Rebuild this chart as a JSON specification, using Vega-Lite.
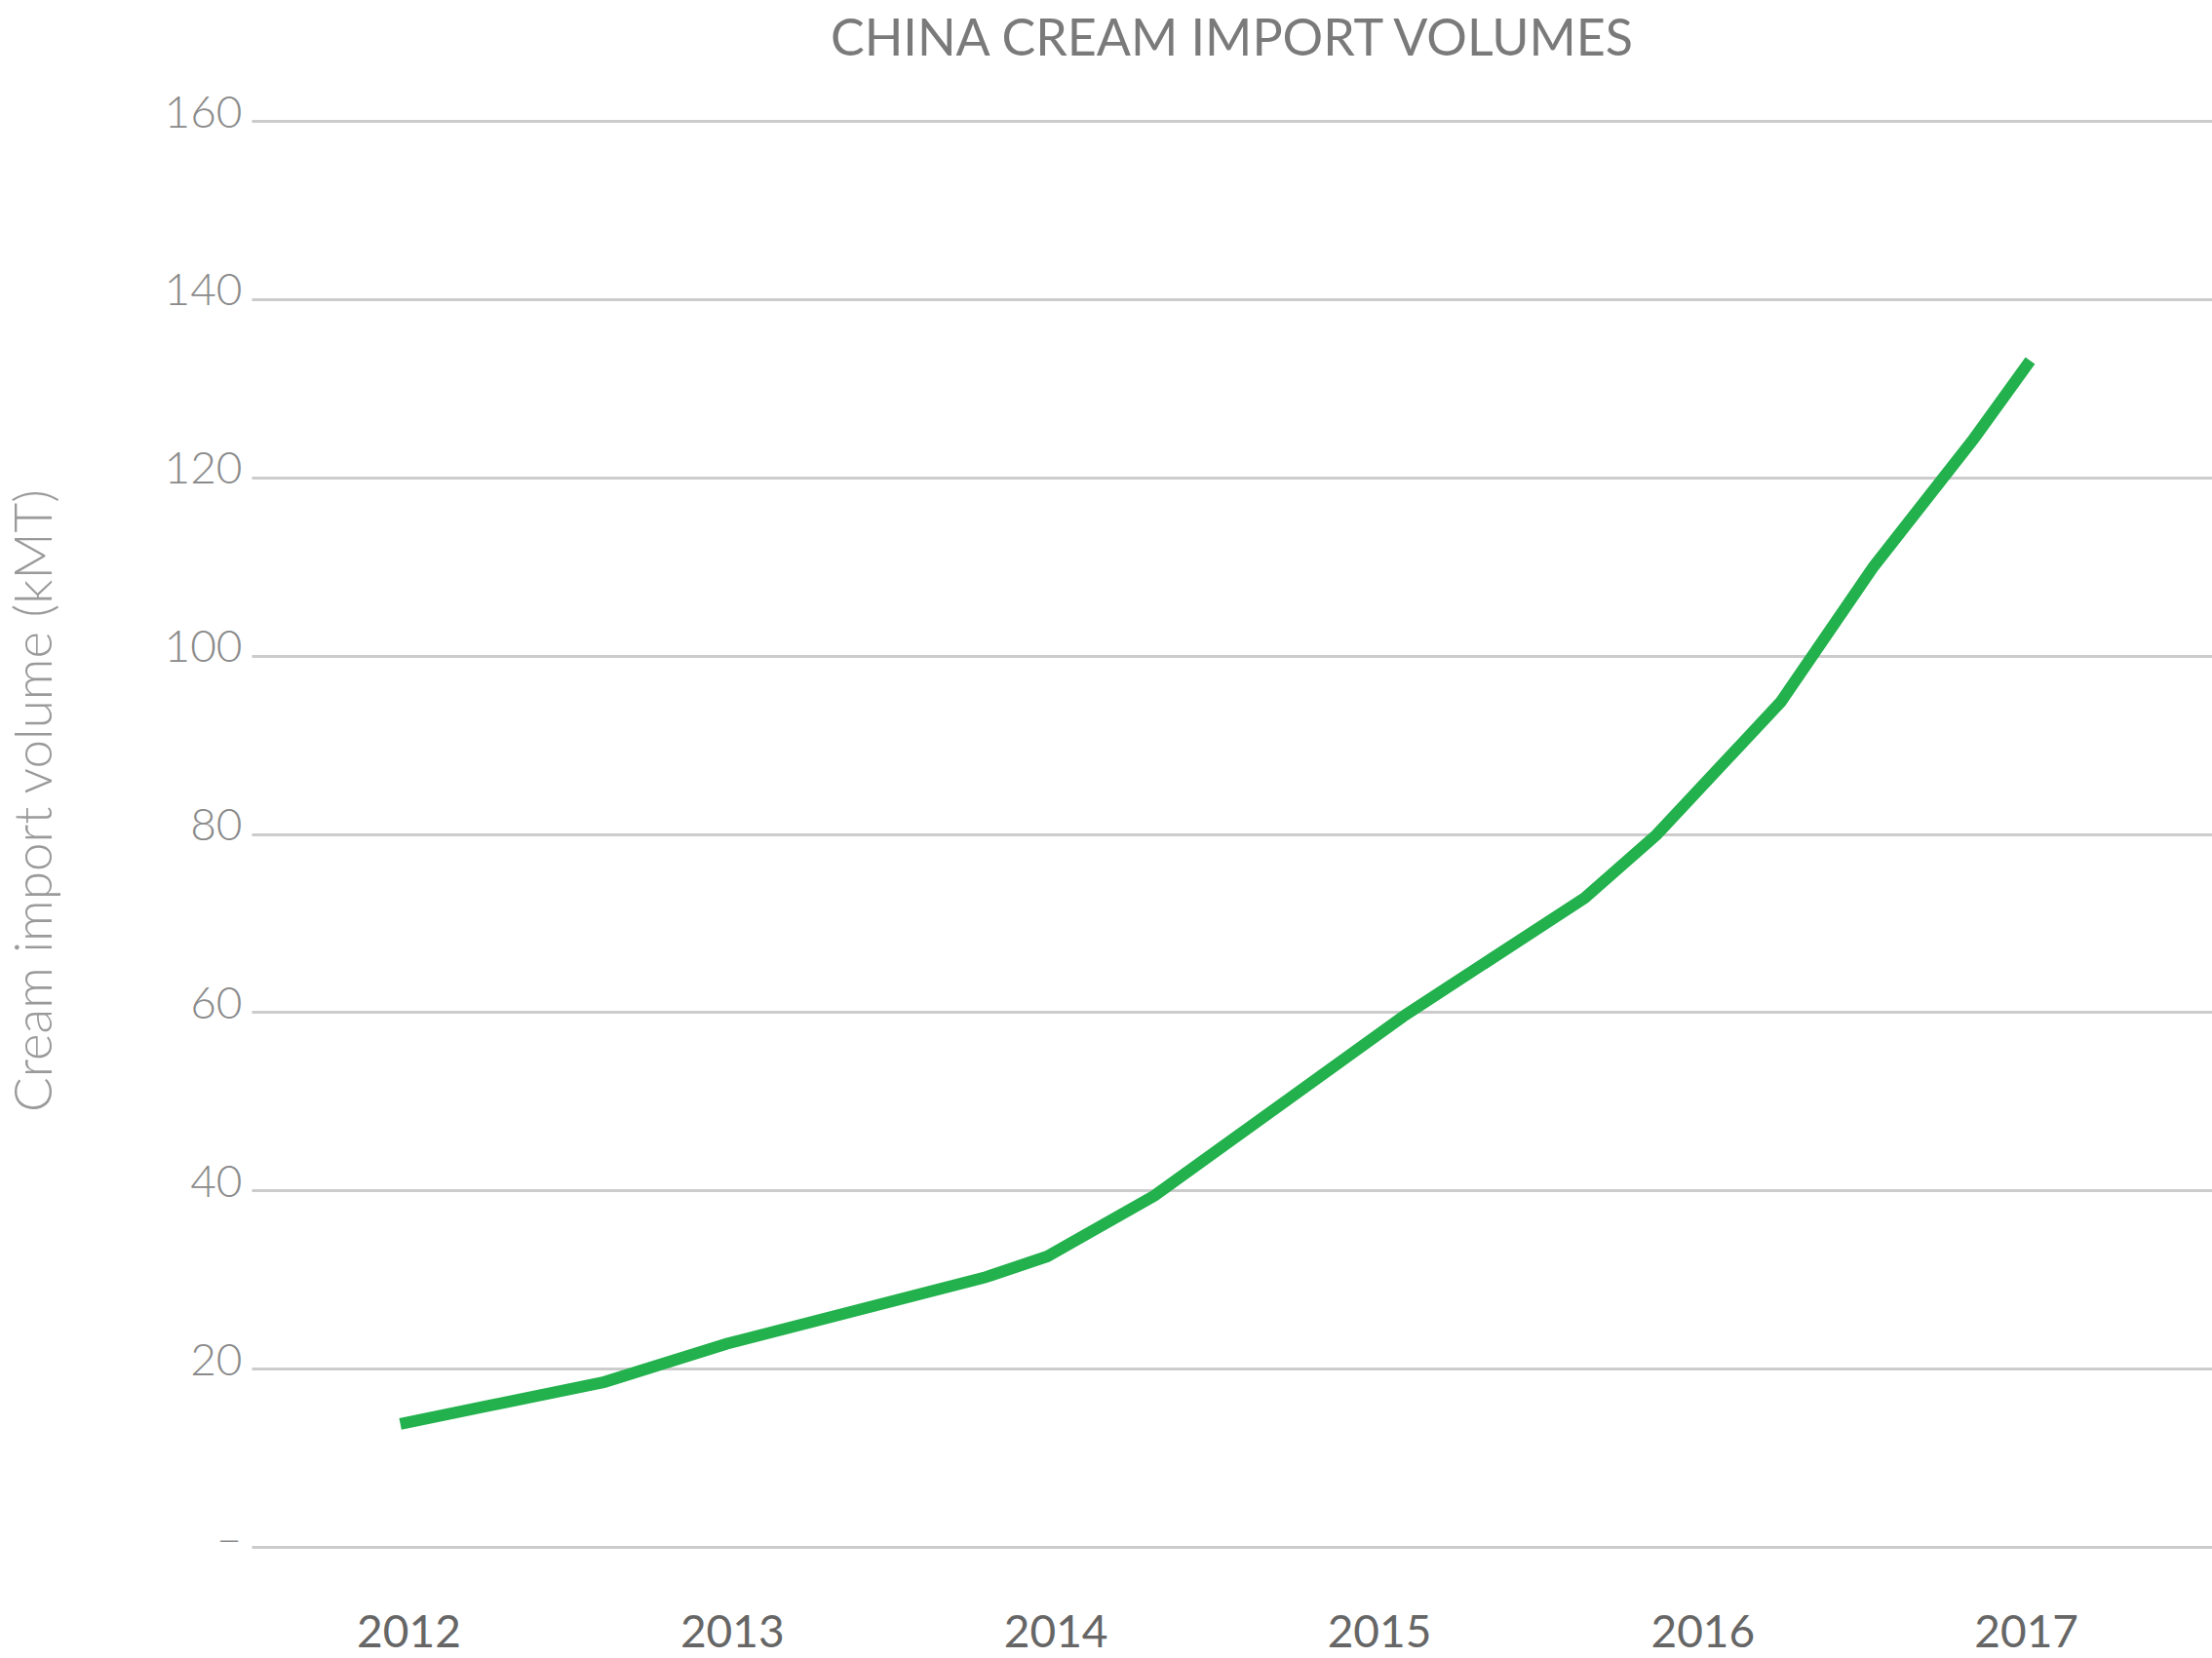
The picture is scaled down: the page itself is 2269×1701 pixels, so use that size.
{
  "$schema": "https://vega.github.io/schema/vega-lite/v6.json",
  "width": 2011,
  "height": 1463,
  "autosize": {"type": "none"},
  "padding": {"left": 258, "top": 124, "right": 0, "bottom": 114},
  "background": "white",
  "view": {"stroke": null},
  "title": {
    "text": "CHINA CREAM IMPORT VOLUMES",
    "anchor": "middle",
    "font": "Lato",
    "fontSize": 52,
    "fontWeight": 400,
    "color": "#7a7a7a",
    "baseline": "alphabetic",
    "offset": -16
  },
  "data": {
    "values": [
      {"year": 2011.975, "volume": 13.8},
      {"year": 2012.606, "volume": 18.5},
      {"year": 2012.985, "volume": 22.8},
      {"year": 2013.779, "volume": 30.2},
      {"year": 2013.975, "volume": 32.6},
      {"year": 2014.306, "volume": 39.4},
      {"year": 2015.082, "volume": 59.7},
      {"year": 2015.636, "volume": 72.8},
      {"year": 2015.858, "volume": 79.9},
      {"year": 2016.242, "volume": 94.8},
      {"year": 2016.529, "volume": 110.0},
      {"year": 2016.834, "volume": 124.1},
      {"year": 2017.013, "volume": 133.1}
    ]
  },
  "mark": {"type": "line", "color": "#22b14c", "strokeWidth": 12, "strokeJoin": "miter", "strokeCap": "butt"},
  "encoding": {
    "x": {
      "field": "year",
      "type": "quantitative",
      "scale": {"domain": [2011.515, 2017.575], "nice": false, "zero": false},
      "axis": {
        "title": null,
        "values": [2012, 2013, 2014, 2015, 2016, 2017],
        "format": "d",
        "grid": false,
        "domain": false,
        "ticks": false,
        "labelFont": "Lato",
        "labelFontSize": 46,
        "labelColor": "#666666",
        "labelPadding": 66,
        "labelBaseline": "top"
      }
    },
    "y": {
      "field": "volume",
      "type": "quantitative",
      "scale": {"domain": [0, 160], "nice": false},
      "axis": {
        "title": "Cream import volume (kMT)",
        "values": [0, 20, 40, 60, 80, 100, 120, 140, 160],
        "labelExpr": "datum.value == 0 ? '–' : datum.label",
        "grid": true,
        "gridColor": "#cccccc",
        "gridWidth": 3,
        "domain": false,
        "ticks": false,
        "labelFont": "Lato",
        "labelFontWeight": 300,
        "labelFontSize": 46,
        "labelColor": "#8a8a8a",
        "labelPadding": 10,
        "labelBaseline": "middle",
        "labelOffset": -8,
        "titleFont": "Lato",
        "titleFontWeight": 300,
        "titleFontSize": 53,
        "titleColor": "#9a9a9a",
        "titleX": -222,
        "titleY": 697,
        "titleAlign": "center",
        "titleBaseline": "middle",
        "titleAngle": -90
      }
    }
  }
}
